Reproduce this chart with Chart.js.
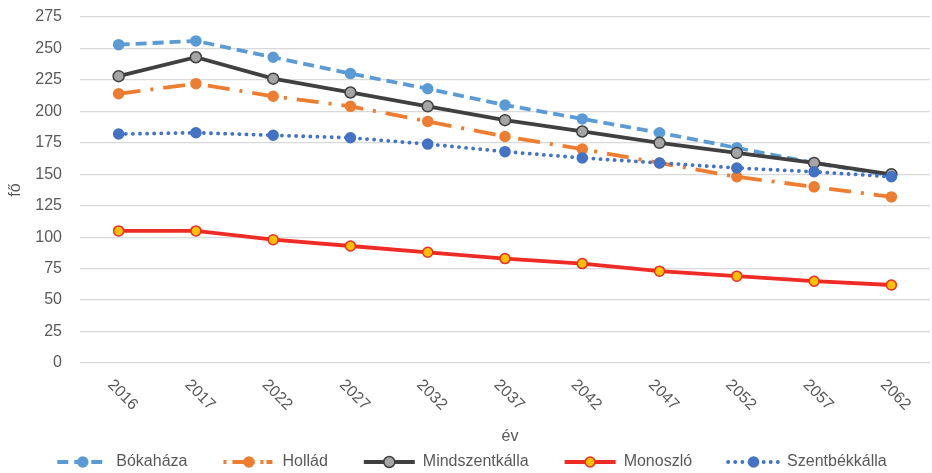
<!DOCTYPE html>
<html>
<head>
<meta charset="utf-8">
<script src="https://cdn.jsdelivr.net/npm/chart.js@4"></script>
<style>
html,body{margin:0;padding:0;background:#fff;}
#wrap{width:932px;height:473px;position:relative;}
</style>
</head>
<body>
<div id="wrap"><canvas id="c" width="932" height="473"></canvas></div>
<script>
const years = ['2016','2017','2022','2027','2032','2037','2042','2047','2052','2057','2062'];
const bokahaza = [253, 256, 243, 230, 218, 205, 194, 183, 171, 159, 149];
const hollad = [214, 222, 212, 204, 192, 180, 170, 159, 148, 140, 132];
const mindszentkalla = [228, 243, 226, 215, 204, 193, 184, 175, 167, 159, 150];
const monoszlo = [105, 105, 98, 93, 88, 83, 79, 73, 69, 65, 62];
const szentbekkalla = [182, 183, 181, 179, 174, 168, 163, 159, 155, 152, 148];
const seriesNames = ['Bókaháza','Hollád','Mindszentkálla','Monoszló','Szentbékkálla'];
const yMin = 0, yMax = 275, yStep = 25;
const xTitle = 'év', yTitle = 'fő';

const FONT = '"Liberation Sans", Arial, sans-serif';
const TXT = '#595959';

const styles = [
  {color:'#5B9BD5', dash:[11,6], fill:'#5B9BD5', border:'#5B9BD5', r:5, cap:'butt'},
  {color:'#ED7D31', dash:[22,10,3,10], fill:'#ED7D31', border:'#ED7D31', r:5, cap:'butt'},
  {color:'#404040', dash:[], fill:'#A5A5A5', border:'#404040', r:5.5, cap:'butt'},
  {color:'#EE2B24', dash:[], fill:'#FFC000', border:'#EE2B24', r:5, cap:'butt'},
  {color:'#4472C4', dash:[0.1,7], fill:'#4472C4', border:'#4472C4', r:5, cap:'round'}
];
const values = [bokahaza, hollad, mindszentkalla, monoszlo, szentbekkalla];

const datasets = values.map((v,i)=>({
  label: seriesNames[i],
  data: v,
  borderColor: styles[i].color,
  borderWidth: 3.8,
  borderDash: styles[i].dash,
  borderCapStyle: styles[i].cap,
  pointRadius: styles[i].r,
  pointHoverRadius: styles[i].r,
  pointBackgroundColor: styles[i].fill,
  pointBorderColor: styles[i].border,
  pointBorderWidth: 1.5,
  tension: 0,
  fill: false,
  order: 5 - i
}));

const customDraw = {
  id:'customDraw',
  afterDraw(chart){
    const ctx = chart.ctx;
    const xs = chart.scales.x;
    ctx.save();
    ctx.font = '16px ' + FONT;
    ctx.fillStyle = TXT;
    ctx.textAlign = 'center';
    ctx.textBaseline = 'middle';
    years.forEach((lab, i)=>{
      const px = xs.getPixelForTick(i);
      ctx.save();
      ctx.translate(px + 4, 395);
      ctx.rotate(Math.PI/4);
      ctx.fillText(lab, 0, 0);
      ctx.restore();
    });
    ctx.fillText(xTitle, 510, 437);
    ctx.restore();

    ctx.save();
    ctx.font = '16px ' + FONT;
    const symW = 51, gapST = 8, gapItem = 36;
    let widths = seriesNames.map(n => symW + gapST + ctx.measureText(n).width);
    let total = widths.reduce((a,b)=>a+b,0) + gapItem*(seriesNames.length-1);
    let x = 472 - total/2;
    const y = 462;
    seriesNames.forEach((n,i)=>{
      const s = styles[i];
      ctx.save();
      ctx.strokeStyle = s.color;
      ctx.lineWidth = 3.8;
      ctx.lineCap = s.cap;
      ctx.setLineDash(i===1 ? [3,6,22,6,3] : (i===0 ? [11,6] : s.dash));
      ctx.beginPath();
      ctx.moveTo(x, y); ctx.lineTo(x+symW, y);
      ctx.stroke();
      ctx.setLineDash([]);
      ctx.beginPath();
      ctx.arc(x+symW/2, y, s.r, 0, Math.PI*2);
      ctx.fillStyle = s.fill; ctx.fill();
      ctx.lineWidth = 1.5; ctx.strokeStyle = s.border; ctx.stroke();
      ctx.restore();
      ctx.fillStyle = TXT;
      ctx.textAlign = 'left';
      ctx.textBaseline = 'middle';
      ctx.fillText(n, x + symW + gapST, y);
      x += widths[i] + gapItem;
    });
    ctx.restore();
  }
};

new Chart(document.getElementById('c'), {
  type:'line',
  data:{ labels: years, datasets },
  options:{
    responsive:false,
    animation:false,
    devicePixelRatio:1,
    layout:{ autoPadding:false, padding:{ top:17, right:2, left:0, bottom:110 } },
    plugins:{ legend:{display:false}, title:{display:false}, tooltip:{enabled:false} },
    scales:{
      x:{
        offset:true,
        grid:{ display:false, drawTicks:false },
        border:{ display:false },
        ticks:{ display:false },
        afterFit(s){ s.height = 0; }
      },
      y:{
        min:yMin, max:yMax,
        ticks:{ stepSize:yStep, color:TXT, font:{family:FONT, size:16}, padding:18 },
        grid:{ color:'#D9D9D9', lineWidth:1.2, drawTicks:false },
        border:{ display:false },
        title:{ display:true, text:yTitle, color:TXT, font:{family:FONT, size:16}, padding:{top:6,bottom:0} },
        afterFit(s){ s.width = 80; s.paddingTop = 0; s.paddingBottom = 0; }
      }
    }
  },
  plugins:[customDraw]
});
</script>
</body>
</html>
